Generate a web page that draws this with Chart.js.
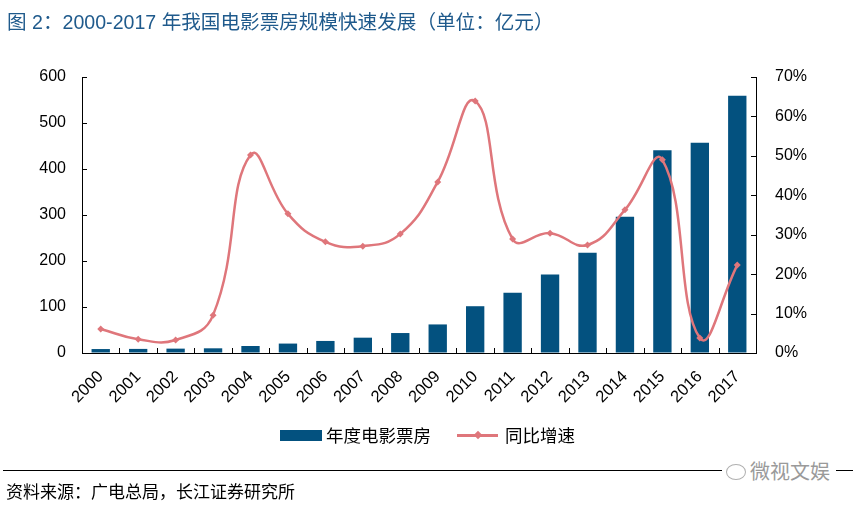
<!DOCTYPE html>
<html>
<head>
<meta charset="utf-8">
<script src="https://cdn.jsdelivr.net/npm/chart.js@4/dist/chart.umd.min.js"></script>
<style>
  html,body{margin:0;padding:0;background:#fff;}
  body{width:856px;height:510px;position:relative;overflow:hidden;font-family:"Liberation Sans","Noto Sans CJK SC",sans-serif;}
  #c{position:absolute;left:0;top:0;}
  .title{position:absolute;left:7px;top:6px;font-size:19.6px;color:#1F5A8C;font-family:"Liberation Sans","Noto Sans CJK SC",sans-serif;white-space:nowrap;}
  .legend{position:absolute;top:425px;left:280px;height:20px;font-size:17.5px;font-family:"Noto Sans CJK SC",sans-serif;color:#000;}
  .legend .item{position:absolute;white-space:nowrap;top:0;}
  .rule{position:absolute;left:3px;right:3px;top:470px;height:0;border-top:1.3px solid #000;}
  .source{position:absolute;left:6px;top:478px;font-size:17px;color:#000;font-family:"Noto Sans CJK SC",sans-serif;white-space:nowrap;}
  .wm{position:absolute;left:722px;top:456px;font-size:20px;color:#9a9a9a;background:#fff;padding:0 6px 0 4px;font-family:"Noto Sans CJK SC",sans-serif;white-space:nowrap;}
  .wm .ic{display:inline-block;width:18px;height:14px;border:1.5px solid #b0b0b0;border-radius:50%;margin-right:4px;vertical-align:-1px;}
</style>
</head>
<body>
<canvas id="c" width="856" height="510"></canvas>
<div class="title">图 2：2000-2017 年我国电影票房规模快速发展（单位：亿元）</div>
<div class="legend">
  <div class="item" style="left:0;top:5px;width:42px;height:11px;background:#03517F;"></div>
  <div class="item" style="left:46px;top:-3px;">年度电影票房</div>
  <div class="item" style="left:177px;top:9px;width:41px;height:3px;background:#DF767B;"></div>
  <div class="item" style="left:195px;top:7px;width:6px;height:6px;background:#DF767B;transform:rotate(45deg);"></div>
  <div class="item" style="left:225px;top:-3px;">同比增速</div>
</div>
<div class="rule"></div>
<div class="source">资料来源：广电总局，长江证券研究所</div>
<div class="wm"><span class="ic"></span>微视文娱</div>
<script>
const years = ["2000","2001","2002","2003","2004","2005","2006","2007","2008","2009","2010","2011","2012","2013","2014","2015","2016","2017"];
const boxOffice = [8.6, 8.9, 9.5, 10.2, 15.2, 20.5, 26.2, 33.3, 43.4, 62.1, 101.7, 131.2, 170.7, 217.7, 296.4, 440.7, 457.1, 559.1];
const growth = [0.061, 0.035, 0.033, 0.096, 0.502, 0.353, 0.282, 0.271, 0.302, 0.434, 0.639, 0.289, 0.304, 0.274, 0.363, 0.490, 0.038, 0.223];
const leftTicks = [0, 100, 200, 300, 400, 500, 600];
const rightTicks = [0, 0.1, 0.2, 0.3, 0.4, 0.5, 0.6, 0.7];
const seriesNames = ["年度电影票房", "同比增速"];

const tickFont = {family: "'Liberation Sans', Arial, sans-serif", size: 16};

const innerTicks = {
  id: 'innerTicks',
  afterDatasetsDraw(chart) {
    const ctx = chart.ctx;
    const a = chart.chartArea;
    ctx.save();
    ctx.strokeStyle = '#000';
    ctx.lineWidth = 1;
    ctx.beginPath();
    const y = chart.scales.y, y1 = chart.scales.y1, x = chart.scales.x;
    y.ticks.forEach((t, i) => { const p = Math.round(y.getPixelForTick(i)) + 0.5; ctx.moveTo(a.left, p); ctx.lineTo(a.left + 5, p); });
    y1.ticks.forEach((t, i) => { const p = Math.round(y1.getPixelForTick(i)) + 0.5; ctx.moveTo(a.right, p); ctx.lineTo(a.right - 5, p); });
    const n = years.length;
    for (let i = 1; i < n; i++) {
      const p = Math.round((x.getPixelForValue(i - 1) + x.getPixelForValue(i)) / 2) + 0.5;
      ctx.moveTo(p, a.bottom); ctx.lineTo(p, a.bottom - 5);
    }
    ctx.stroke();
    ctx.restore();
  }
};

new Chart(document.getElementById('c'), {
  type: 'bar',
  data: {
    labels: years,
    datasets: [
      {
        type: 'line',
        label: seriesNames[1],
        data: growth,
        yAxisID: 'y1',
        borderColor: '#DF767B',
        backgroundColor: '#DF767B',
        borderWidth: 2.5,
        tension: 0.45,
        pointStyle: 'rectRot',
        pointRadius: 3.5,
        pointBorderWidth: 0,
        pointBackgroundColor: '#DF767B',
        order: 0
      },
      {
        type: 'bar',
        label: seriesNames[0],
        data: boxOffice,
        yAxisID: 'y',
        backgroundColor: '#03517F',
        categoryPercentage: 1,
        barPercentage: 0.49,
        order: 1
      }
    ]
  },
  options: {
    responsive: false,
    animation: false,
    devicePixelRatio: 1,
    layout: {padding: {top: 77, bottom: 87, left: 0, right: 0}},
    plugins: {legend: {display: false}, tooltip: {enabled: false}},
    scales: {
      x: {
        grid: {display: true, drawOnChartArea: false, drawTicks: false},
        border: {display: true, color: '#000', width: 1},
        ticks: {color: '#000', font: {family: "'Liberation Sans', Arial, sans-serif", size: 16.5}, minRotation: 45, maxRotation: 45, padding: 14, autoSkip: false},
        afterFit(s) { s.height = 70; }
      },
      y: {
        position: 'left',
        min: 0, max: 600,
        afterBuildTicks(s) { s.ticks = leftTicks.map(v => ({value: v})); },
        grid: {display: true, drawOnChartArea: false, drawTicks: false},
        border: {display: true, color: '#000', width: 1},
        ticks: {color: '#000', font: tickFont, padding: 16},
        afterFit(s) { s.width = 82; }
      },
      y1: {
        position: 'right',
        min: 0, max: 0.7,
        afterBuildTicks(s) { s.ticks = rightTicks.map(v => ({value: v})); },
        grid: {display: true, drawOnChartArea: false, drawTicks: false},
        border: {display: true, color: '#000', width: 1},
        ticks: {color: '#000', font: tickFont, padding: 19, callback: v => Math.round(v * 100) + '%'},
        afterFit(s) { s.width = 100; }
      }
    }
  },
  plugins: [innerTicks]
});
</script>
</body>
</html>
